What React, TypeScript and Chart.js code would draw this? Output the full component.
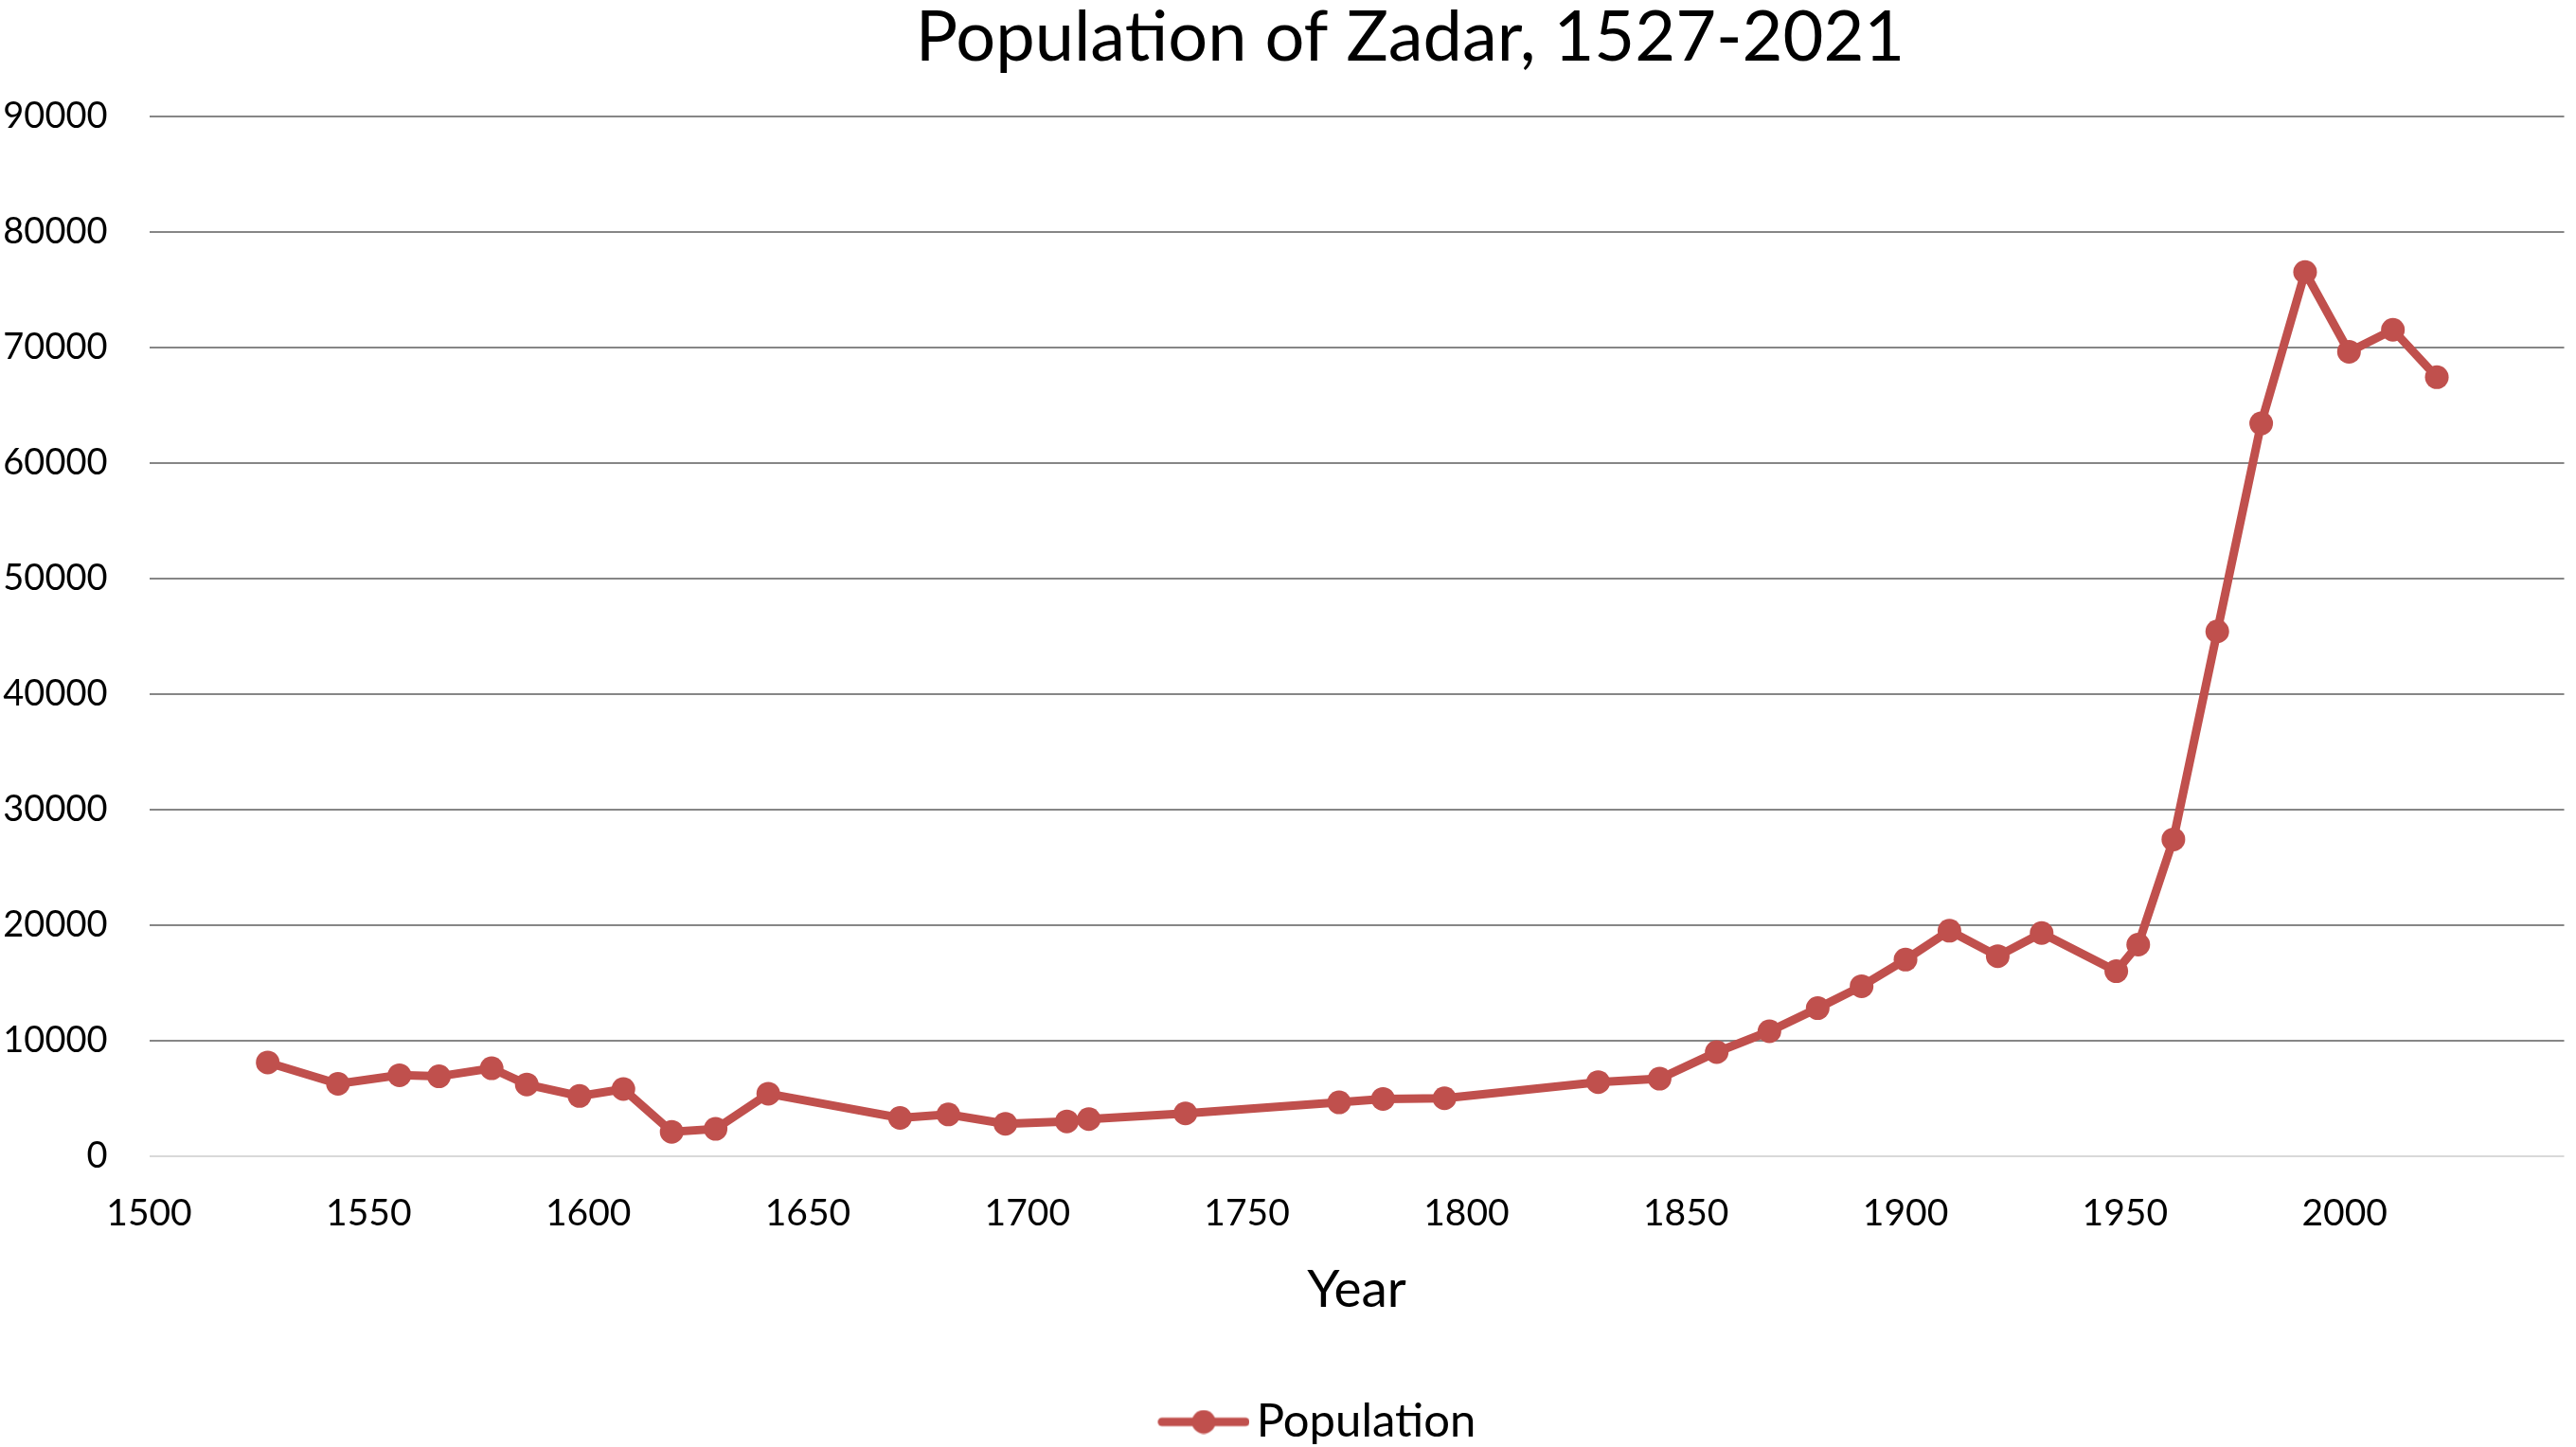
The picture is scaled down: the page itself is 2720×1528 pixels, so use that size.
import { useEffect, useRef } from 'react';
import Chart from 'chart.js/auto';

const YEARS = [
  1527, 1543, 1557, 1566, 1578, 1586, 1598, 1608, 1619, 1629, 1641, 1671, 1682,
  1695, 1709, 1714, 1736, 1771, 1781, 1795, 1830, 1844, 1857, 1869, 1880, 1890,
  1900, 1910, 1921, 1931, 1948, 1953, 1961, 1971, 1981, 1991, 2001, 2011, 2021,
];
const POPULATION = [
  8100, 6250, 7000, 6900, 7600, 6200, 5200, 5800, 2100, 2350, 5400, 3300, 3600,
  2800, 3000, 3200, 3700, 4650, 4950, 5000, 6400, 6700, 9000, 10800, 12800, 14700,
  17000, 19500, 17300, 19300, 16000, 18300, 27400, 45400, 63400, 76500, 69600, 71500, 67400,
];

const X_MIN = 1500;
const X_MAX = 2050;
const X_STEP = 50;
const X_HIDDEN_LABELS = [2050];
const Y_MIN = 0;
const Y_MAX = 90000;
const Y_STEP = 10000;

const TITLE = 'Population of Zadar, 1527-2021';
const X_TITLE = 'Year';
const SERIES = 'Population';

const RED = '#C0504D';
const GRID = '#868686';
const ZERO_LINE = '#D9D9D9';
const FONT = 'Lato';

const W = 2720;
const H = 1528;
const LEGEND_FONT = 49;

// the reference title sits right of the canvas centre, so it is drawn here
const offsetTitle = {
  id: 'offsetTitle',
  afterDraw(chart: Chart) {
    const ctx = chart.ctx;
    ctx.save();
    ctx.fillStyle = '#000';
    ctx.font = `normal 74px ${FONT}`;
    ctx.textAlign = 'center';
    ctx.textBaseline = 'middle';
    ctx.fillText(TITLE, 1489, 40);
    ctx.restore();
  },
};

// line + marker swatch for the legend, line sits at the right end of the image
function legendSwatch(width: number) {
  const c = document.createElement('canvas');
  c.width = Math.round(width);
  c.height = 26;
  const g = c.getContext('2d')!;
  const right = c.width;
  g.strokeStyle = RED;
  g.lineWidth = 9;
  g.lineCap = 'round';
  g.beginPath();
  g.moveTo(right - 97 + 4.5, 13);
  g.lineTo(right - 4.5, 13);
  g.stroke();
  g.fillStyle = RED;
  g.beginPath();
  g.arc(right - 48.5, 13, 12.5, 0, Math.PI * 2);
  g.fill();
  return c;
}

export default function App() {
  const ref = useRef<HTMLCanvasElement>(null);
  useEffect(() => {
    document.body.style.margin = '0';
    document.body.style.overflow = 'hidden';
    if (!ref.current) return;

    // place legend text where the reference has it
    const m = document.createElement('canvas').getContext('2d')!;
    m.font = `normal ${LEGEND_FONT}px ${FONT}`;
    const textW = m.measureText(SERIES).width;
    const center = (W - 7) / 2;
    const boxW = 2 * (1326.7 - center) - LEGEND_FONT / 2 + textW;
    const swatch = legendSwatch(boxW + 2 * (LEGEND_FONT / 2 - 7));

    const c = new Chart(ref.current, {
      type: 'scatter',
      data: {
        datasets: [{
          label: SERIES,
          data: YEARS.map((x, i) => ({ x, y: POPULATION[i] })),
          showLine: true,
          borderColor: RED,
          backgroundColor: RED,
          borderWidth: 9,
          pointRadius: 12.5,
          pointBorderWidth: 0,
          pointBackgroundColor: RED,
        }],
      },
      options: {
        responsive: false,
        animation: false,
        devicePixelRatio: 1,
        events: [],
        layout: { padding: { left: 0, right: 7, top: 122.5, bottom: -8 } },
        scales: {
          x: {
            type: 'linear',
            min: X_MIN,
            max: X_MAX,
            afterFit: (s) => { s.height = 246.2; },
            // invisible tick marks push the labels down without adding side padding
            grid: { display: true, drawOnChartArea: false, drawTicks: true, tickLength: 37.4, color: 'rgba(0,0,0,0)' },
            border: { display: false },
            ticks: {
              stepSize: X_STEP,
              autoSkip: false,
              maxRotation: 0,
              padding: 0,
              color: '#000',
              font: { family: FONT, size: 39, lineHeight: 1.2 },
              callback: (v) => (X_HIDDEN_LABELS.includes(Number(v)) ? '' : String(v)),
            },
            title: {
              display: true,
              text: X_TITLE,
              color: '#000',
              font: { family: FONT, size: 55, lineHeight: 1.2 },
              padding: { top: 0, bottom: 71.3 },
            },
          },
          y: {
            min: Y_MIN,
            max: Y_MAX,
            afterFit: (s) => { s.width = 157.5; },
            grid: {
              drawTicks: false,
              lineWidth: 2,
              color: (ctx) => (ctx.tick && ctx.tick.value === 0 ? ZERO_LINE : GRID),
            },
            border: { display: false },
            ticks: {
              stepSize: Y_STEP,
              padding: 44,
              color: '#000',
              font: { family: FONT, size: 38 },
              callback: (v) => String(v),
            },
          },
        },
        plugins: {
          title: { display: false },
          legend: {
            position: 'bottom',
            labels: {
              usePointStyle: true,
              pointStyleWidth: boxW,
              padding: 10,
              color: '#000',
              font: { family: FONT, size: LEGEND_FONT },
              generateLabels: (chart) =>
                Chart.defaults.plugins.legend.labels
                  .generateLabels(chart)
                  .map((l) => ({ ...l, pointStyle: swatch })),
            },
          },
          tooltip: { enabled: false },
        },
      },
      plugins: [offsetTitle],
    });
    return () => c.destroy();
  }, []);
  return (
    <div style={{ width: W, height: H, background: '#fff' }}>
      <canvas ref={ref} width={W} height={H} style={{ display: 'block' }} />
    </div>
  );
}
